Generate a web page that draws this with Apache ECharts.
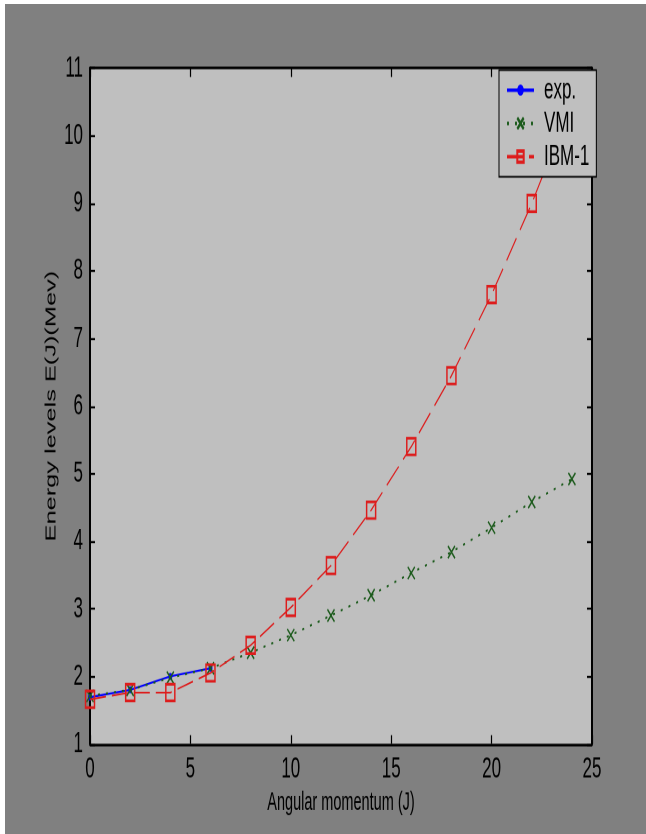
<!DOCTYPE html>
<html>
<head>
<meta charset="utf-8">
<script src="https://cdn.jsdelivr.net/npm/echarts@6/dist/echarts.min.js"></script>
<style>
  html, body { margin: 0; padding: 0; background: #ffffff; width: 646px; height: 834px; overflow: hidden; }
  /* The figure is drawn on a short canvas and stretched vertically, giving the tall, narrow glyphs and markers */
  #chart { position: absolute; left: 5px; top: 4px; width: 641px; height: 474px; transform: scaleY(1.75); transform-origin: 0 0; }
</style>
</head>
<body>
<div id="chart"></div>
<script>
// Angular momentum values (J)
const expJ = [0, 2, 4, 6];
const modelJ = [0, 2, 4, 6, 8, 10, 12, 14, 16, 18, 20, 22, 24];

// Energy levels E(J) in MeV
const expE = [1.69, 1.80, 2.00, 2.12];
const vmiE = [1.71, 1.80, 1.98, 2.12, 2.35, 2.61, 2.90, 3.20, 3.53, 3.84, 4.20, 4.58, 4.92];
const ibmE = [1.66, 1.76, 1.76, 2.05, 2.46, 3.02, 3.64, 4.46, 5.40, 6.45, 7.65, 9.00, 10.50];

const seriesNames = ['exp.', 'VMI', 'IBM-1'];
const xTitle = 'Angular momentum (J)';
const yTitle = 'Energy levels E(J)(Mev)';

const pairs = (xs, ys) => xs.map((x, i) => [x, ys[i]]);

const tickFont = '"Liberation Sans Narrow", "Arial Narrow", "Liberation Sans", Arial, sans-serif';
const titleFont = '"Liberation Sans", Arial, sans-serif';

function frameAxis(pos, isX, withLabels) {
  return {
    type: 'value',
    position: pos,
    min: isX ? 0 : 1,
    max: isX ? 25 : 11,
    interval: isX ? 5 : 1,
    axisLine: { show: true, onZero: false, lineStyle: { color: '#000', width: isX ? 1.4 : 2 } },
    axisTick: { show: true, inside: true, length: 5, lineStyle: { color: '#000', width: 1.2 } },
    axisLabel: {
      show: withLabels,
      showMinLabel: true,
      showMaxLabel: true,
      margin: isX ? 6 : 7,
      color: '#000',
      fontFamily: tickFont,
      fontSize: 17
    },
    splitLine: { show: false }
  };
}

const xMain = frameAxis('bottom', true, true);
xMain.name = xTitle;
xMain.nameLocation = 'middle';
xMain.nameGap = 26;
xMain.nameMoveOverlap = false;
xMain.nameTextStyle = { color: '#000', fontFamily: titleFont, fontSize: 14.5 };

const yMain = frameAxis('left', false, true);
yMain.name = yTitle;
yMain.nameLocation = 'middle';
yMain.nameRotate = 90;
yMain.nameGap = 31;
yMain.nameMoveOverlap = false;
yMain.nameTextStyle = { color: '#000', fontFamily: titleFont, fontSize: 14.5 };

const chart = echarts.init(document.getElementById('chart'), null, { devicePixelRatio: 2 });

chart.setOption({
  animation: false,
  backgroundColor: '#808080',
  grid: {
    left: 85, right: 54, top: 36.7, bottom: 51.2,
    show: true, backgroundColor: '#bfbfbf', borderWidth: 0
  },
  legend: {
    data: seriesNames,
    orient: 'vertical',
    left: 494,
    top: 37.7,
    z: 20,
    padding: [3, 7, 3, 7],
    itemGap: 2,
    itemWidth: 27,
    itemHeight: 8,
    backgroundColor: '#bfbfbf',
    borderColor: '#000',
    borderWidth: 1,
    borderRadius: 0,
    textStyle: { color: '#000', fontFamily: tickFont, fontSize: 17, padding: [0, 0, 0, 5] }
  },
  xAxis: [xMain, frameAxis('top', true, false)],
  yAxis: [yMain, frameAxis('right', false, false)],
  series: [
    {
      name: seriesNames[0],
      type: 'line',
      data: pairs(expJ, expE),
      symbol: 'circle',
      symbolSize: 4,
      itemStyle: { color: '#0000ff' },
      lineStyle: { color: '#0000ff', width: 1.2, type: 'solid' },
      z: 2
    },
    {
      name: seriesNames[1],
      type: 'line',
      data: pairs(modelJ, vmiE),
      symbol: 'path://M0,0L10,10M0,10L10,0',
      symbolSize: [7, 7],
      itemStyle: { color: 'rgba(0,0,0,0)', borderColor: '#1b5a1b', borderWidth: 1.2 },
      lineStyle: { color: '#1b5a1b', width: 1.2, type: [2, 6] },
      z: 3
    },
    {
      name: seriesNames[2],
      type: 'line',
      data: pairs(modelJ, ibmE),
      symbol: 'rect',
      symbolSize: [9, 9.5],
      itemStyle: { color: 'rgba(0,0,0,0)', borderColor: '#dd1c1c', borderWidth: 1.5 },
      lineStyle: { color: '#dd1c1c', width: 1, type: [16, 6] },
      z: 4
    }
  ]
});
</script>
</body>
</html>
